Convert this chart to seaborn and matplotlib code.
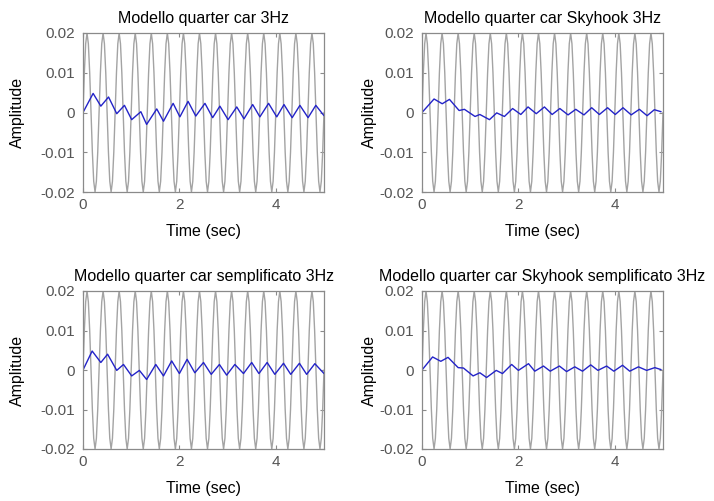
import matplotlib
matplotlib.use("Agg")
import matplotlib.pyplot as plt
import pandas as pd
import seaborn as sns

# ---------------- data ----------------
titles = [
    "Modello quarter car 3Hz",
    "Modello quarter car Skyhook 3Hz",
    "Modello quarter car semplificato 3Hz",
    "Modello quarter car Skyhook semplificato 3Hz",
]
x_label = "Time (sec)"
y_label = "Amplitude"
x_ticks = [0, 2, 4]
y_ticks = [-0.02, -0.01, 0, 0.01, 0.02]
y_tick_labels = ["-0.02", "-0.01", "0", "0.01", "0.02"]

# gray input road signal (3 Hz), one period, repeated 15 times
input_cycle = [0.0, 0.01, 0.0173, 0.02, 0.0173, 0.01,
               0.0, -0.01, -0.0173, -0.02, -0.0173, -0.01]
input_cycles = 15
input_step = 1 / 36
input_values = input_cycle * input_cycles + [0.0]
input_time = [i * input_step for i in range(len(input_values))]

# blue responses (peaks / troughs)
t_qc = [0, 0.21, 0.37, 0.53, 0.70, 0.86, 1.01, 1.20, 1.32, 1.53, 1.67, 1.87, 2.01, 2.18,
        2.34, 2.53, 2.69, 2.84, 3.01, 3.19, 3.34, 3.52, 3.67, 3.85, 4.02, 4.17, 4.34,
        4.50, 4.67, 4.83, 5.0]
v_qc = [0, 0.0048, 0.0016, 0.0039, -0.0003, 0.0018, -0.0018, 0.0002, -0.0030, 0.0009,
        -0.0022, 0.0023, -0.0011, 0.0028, -0.0009, 0.0023, -0.0013, 0.0016, -0.0018,
        0.0014, -0.0016, 0.0020, -0.0011, 0.0023, -0.0011, 0.0020, -0.0013, 0.0018,
        -0.0013, 0.0018, -0.0008]

t_sky = [0, 0.25, 0.42, 0.57, 0.77, 0.88, 1.10, 1.20, 1.40, 1.55, 1.71, 1.88, 2.05, 2.20,
         2.37, 2.54, 2.70, 2.86, 3.03, 3.19, 3.36, 3.52, 3.68, 3.85, 4.01, 4.17, 4.34,
         4.51, 4.67, 4.82, 4.96]
v_sky = [0, 0.0034, 0.0022, 0.0033, 0.0005, 0.0008, -0.0010, -0.0005, -0.0018, -0.0001,
         -0.0010, 0.0010, -0.0005, 0.0014, -0.0003, 0.0014, -0.0005, 0.0010, -0.0006,
         0.0008, -0.0006, 0.0012, -0.0005, 0.0012, -0.0005, 0.0012, -0.0006, 0.0008,
         -0.0008, 0.0007, 0.0002]

t_semp = [0, 0.19, 0.37, 0.51, 0.70, 0.84, 1.01, 1.17, 1.32, 1.51, 1.67, 1.84, 2.00, 2.16,
          2.32, 2.50, 2.66, 2.83, 2.98, 3.15, 3.33, 3.50, 3.65, 3.82, 3.98, 4.16, 4.31,
          4.49, 4.64, 4.81, 5.0]
v_semp = [0, 0.0048, 0.0019, 0.0040, -0.0001, 0.0014, -0.0015, -0.0001, -0.0024, 0.0014,
          -0.0015, 0.0023, -0.0009, 0.0027, -0.0007, 0.0019, -0.0011, 0.0014, -0.0013,
          0.0014, -0.0009, 0.0019, -0.0009, 0.0019, -0.0011, 0.0017, -0.0011, 0.0017,
          -0.0011, 0.0016, -0.0009]

t_sky_semp = [0, 0.22, 0.39, 0.54, 0.75, 0.86, 1.06, 1.20, 1.34, 1.54, 1.67, 1.86, 2.00,
              2.21, 2.34, 2.52, 2.66, 2.85, 3.00, 3.17, 3.33, 3.50, 3.65, 3.83, 3.98, 4.16,
              4.31, 4.49, 4.66, 4.83, 4.96]
v_sky_semp = [0, 0.0033, 0.0022, 0.0032, 0.0006, 0.0005, -0.0015, -0.0007, -0.0019,
              -0.0001, -0.0009, 0.0014, -0.0001, 0.0016, -0.0003, 0.0010, -0.0003, 0.0010,
              -0.0004, 0.0008, -0.0003, 0.0013, -0.0001, 0.0010, -0.0003, 0.0012, -0.0003,
              0.0008, -0.0001, 0.0006, 0.0001]

responses = [(t_qc, v_qc), (t_sky, v_sky), (t_semp, v_semp), (t_sky_semp, v_sky_semp)]

# ---------------- style ----------------
sns.set_style("white")
plt.rcParams["font.family"] = ["Liberation Sans", "DejaVu Sans"]

gray = "#a3a3a3"
blue = "#2323c8"
spine_gray = "#8a8a8a"
tick_text = "#555555"

W, H = 714, 501
fig = plt.figure(figsize=(W / 100, H / 100), dpi=100)

# axes boxes in pixels: (left, top, right, bottom)
boxes = [(83, 33, 324, 192), (422, 33, 663, 192), (83, 291, 324, 449), (422, 291, 663, 449)]
ylabel_x = [-0.241, -0.187, -0.241, -0.187]

input_df = pd.DataFrame({"t": input_time, "u": input_values})

for i, (box, title, (tt, vv)) in enumerate(zip(boxes, titles, responses)):
    l, t, r, b = box
    ax = fig.add_axes([l / W, 1 - b / H, (r - l) / W, (b - t) / H])
    sns.lineplot(data=input_df, x="t", y="u", ax=ax, color=gray, lw=1.0, sort=False,
                 estimator=None)
    resp_df = pd.DataFrame({"t": tt, "y": vv})
    sns.lineplot(data=resp_df, x="t", y="y", ax=ax, color=blue, lw=1.0, sort=False,
                 estimator=None)
    ax.set_xlim(0, 5)
    ax.set_ylim(-0.02, 0.02)
    ax.set_xticks(x_ticks)
    ax.set_xticklabels([str(v) for v in x_ticks])
    ax.set_yticks(y_ticks)
    ax.set_yticklabels(y_tick_labels)
    ax.tick_params(direction="in", length=3, width=0.8, color=spine_gray,
                   labelcolor=tick_text, labelsize=11, top=True, right=True,
                   bottom=True, left=True)
    ax.tick_params(axis="y", pad=5.5)
    ax.tick_params(axis="x", pad=4.5)
    for s in ax.spines.values():
        s.set_visible(True)
        s.set_color(spine_gray)
        s.set_linewidth(0.9)
    ax.set_title(title, fontsize=11.5, color="black", pad=7.5)
    ax.set_xlabel(x_label, fontsize=11.5, color="black")
    ax.set_ylabel(y_label, fontsize=11.5, color="black")
    ax.xaxis.set_label_coords(0.5, -0.2)
    ax.yaxis.set_label_coords(ylabel_x[i], 0.5)
    ax.grid(False)

fig.savefig("out.png", dpi=100, facecolor="white")
